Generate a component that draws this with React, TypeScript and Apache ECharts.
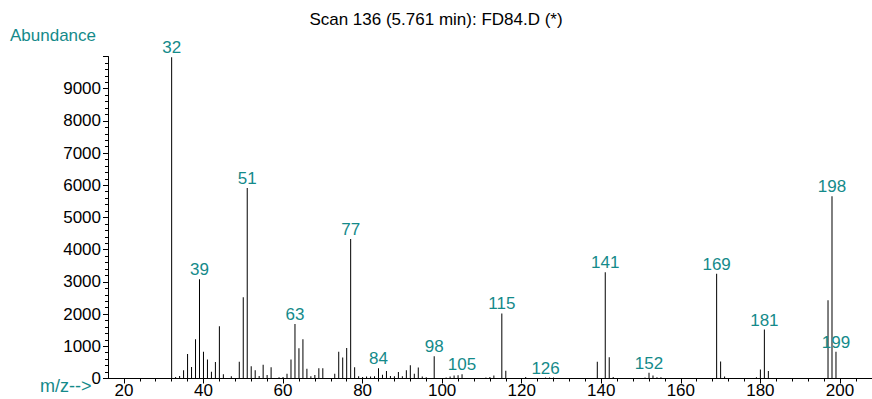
import React, { useEffect, useRef } from "react";
import * as echarts from "echarts";

const massCharge = [
  32, 33, 34, 35, 36, 37, 38, 39, 40, 41, 42, 43, 44, 45, 47, 49, 50, 51, 52, 53, 54, 55, 56, 57, 59, 60,
  61, 62, 63, 64, 65, 66, 67, 68, 69, 70, 73, 74, 75, 76, 77, 78, 79, 80, 81, 82, 83, 84, 85, 86, 87, 88,
  89, 90, 91, 92, 93, 94, 95, 96, 98, 101, 102, 103, 104, 105, 111, 112, 113, 115, 116, 121, 126, 127, 128,
  139, 141, 142, 143, 151, 152, 153, 154, 155, 169, 170, 171, 179, 180, 181, 182, 197, 198, 199,
];
const abundance = [
  9980, 50, 80, 260, 760, 360, 1220, 3080, 830, 590, 210, 510, 1620, 130, 70, 520, 2520, 5920, 380, 260, 80, 430, 110, 350, 40, 50,
  150, 590, 1690, 940, 1220, 300, 70, 110, 320, 320, 150, 830, 650, 950, 4330, 350, 70, 50, 60, 60, 70, 320, 120, 230, 80, 70,
  200, 70, 260, 410, 150, 340, 60, 40, 690, 30, 60, 90, 100, 130, 30, 50, 90, 2020, 240, 50, 30, 30, 30,
  520, 3300, 660, 50, 30, 180, 90, 40, 40, 3250, 530, 60, 40, 280, 1520, 230, 2430, 5660, 830,
];
const labeledPeaks = [32, 39, 51, 63, 77, 84, 98, 105, 115, 126, 141, 152, 169, 181, 198, 199];

const titleText = "Scan 136 (5.761 min): FD84.D (*)";
const yAxisName = "Abundance";
const xAxisName = "m/z-->";

const TEAL = "#148a8a";
const FONT = "'Liberation Sans', Arial, sans-serif";

export default function App() {
  const ref = useRef<HTMLDivElement>(null);
  useEffect(() => {
    if (!ref.current) return;
    const chart = echarts.init(ref.current, undefined, { renderer: "svg" });
    const seriesData = massCharge.map((m, i) => {
      const item: any = { value: [m, abundance[i]] };
      if (labeledPeaks.includes(m)) item.label = { show: true };
      return item;
    });
    const gTop = 56.5;
    const gHeight = 322;
    const pxPerUnit = 3.978;
    chart.setOption({
      animation: false,
      backgroundColor: "#fff",
      textStyle: { fontFamily: FONT },
      grid: [
        { left: 108, top: gTop, width: (208 - 16) * pxPerUnit, height: gHeight, containLabel: false, outerBoundsMode: "none" },
        { left: 108 + 4 * pxPerUnit, top: gTop, width: 200 * pxPerUnit, height: gHeight, containLabel: false, outerBoundsMode: "none" },
      ],
      xAxis: [
        {
          type: "value",
          gridIndex: 0,
          min: 16,
          max: 208,
          axisLine: { show: true, lineStyle: { color: "#000", width: 1 } },
          axisTick: { show: false },
          axisLabel: { show: false },
          splitLine: { show: false },
        },
        {
          type: "value",
          gridIndex: 1,
          min: 20,
          max: 220,
          interval: 20,
          axisLine: { show: false },
          axisTick: { show: true, length: 5, lineStyle: { color: "#000", width: 1 } },
          minorTick: { show: true, splitNumber: 5, length: 3, lineStyle: { color: "#000", width: 1 } },
          axisLabel: { show: true, showMaxLabel: false, margin: 3, fontSize: 17, color: "#000", fontFamily: FONT },
          splitLine: { show: false },
        },
      ],
      yAxis: [
        {
          type: "value",
          gridIndex: 0,
          min: 0,
          max: 10000,
          interval: 1000,
          axisLine: { show: true, lineStyle: { color: "#000", width: 1 } },
          axisTick: { show: true, length: 5, lineStyle: { color: "#000", width: 1 } },
          minorTick: { show: true, splitNumber: 5, length: 3, lineStyle: { color: "#000", width: 1 } },
          axisLabel: {
            show: true,
            showMaxLabel: false,
            margin: 7,
            fontSize: 17,
            color: "#000",
            fontFamily: FONT,
            formatter: (v: number) => String(v),
          },
          splitLine: { show: false },
        },
        { type: "value", gridIndex: 1, min: 0, max: 1, show: false },
      ],
      series: [
        {
          type: "bar",
          xAxisIndex: 0,
          yAxisIndex: 0,
          barWidth: 1,
          itemStyle: { color: "#000" },
          label: {
            show: false,
            position: "top",
            distance: 1,
            color: TEAL,
            fontSize: 17,
            fontFamily: FONT,
            formatter: (p: any) => String(p.value[0]),
          },
          data: seriesData,
        },
      ],
      graphic: [
        {
          type: "text",
          left: "center",
          top: 11,
          style: { text: titleText, fontSize: 17, fill: "#000", fontFamily: FONT },
        },
        {
          type: "text",
          left: 10,
          top: 27,
          style: { text: yAxisName, fontSize: 17, fill: TEAL, fontFamily: FONT },
        },
        {
          type: "text",
          left: 40,
          top: 377,
          style: { text: xAxisName, fontSize: 18, fill: TEAL, fontFamily: FONT },
        },
      ],
    });
    return () => chart.dispose();
  }, []);
  return <div ref={ref} style={{ position: "absolute", left: 0, top: 0, width: 872, height: 399 }} />;
}
